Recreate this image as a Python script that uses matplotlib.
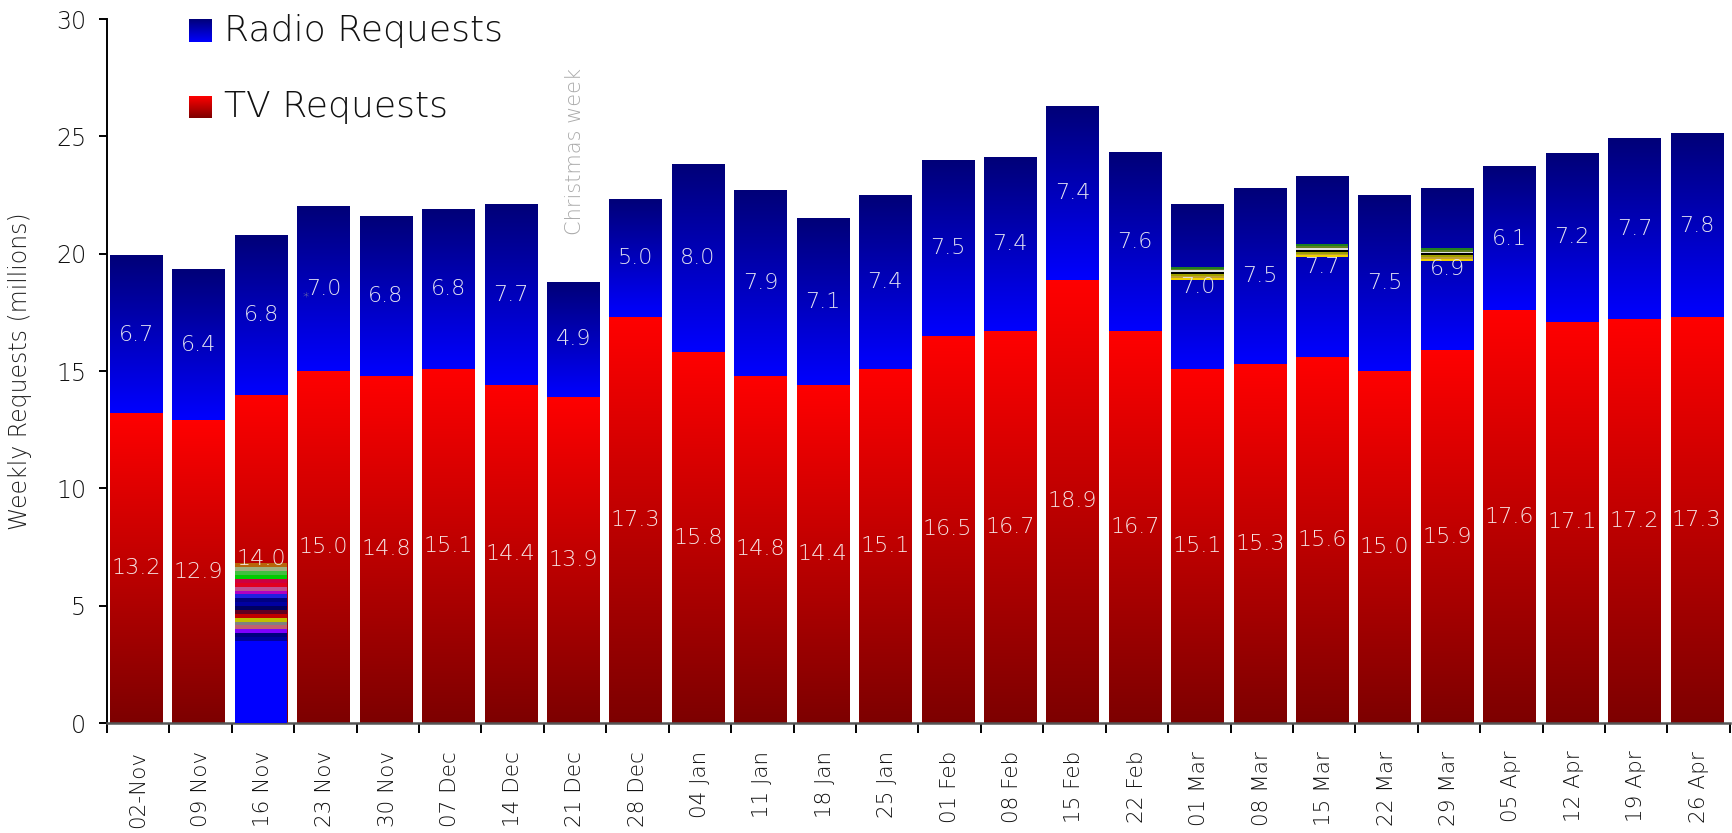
import numpy as np
import matplotlib
matplotlib.use("Agg")
import matplotlib.pyplot as plt
from matplotlib.colors import LinearSegmentedColormap

plt.rcParams["font.family"] = ["DejaVu Sans"]
plt.rcParams["font.weight"] = 200

weeks = ["02-Nov", "09 Nov", "16 Nov", "23 Nov", "30 Nov", "07 Dec", "14 Dec",
         "21 Dec", "28 Dec", "04 Jan", "11 Jan", "18 Jan", "25 Jan", "01 Feb",
         "08 Feb", "15 Feb", "22 Feb", "01 Mar", "08 Mar", "15 Mar", "22 Mar",
         "29 Mar", "05 Apr", "12 Apr", "19 Apr", "26 Apr"]
tv = [13.2, 12.9, 14.0, 15.0, 14.8, 15.1, 14.4, 13.9, 17.3, 15.8, 14.8, 14.4, 15.1,
      16.5, 16.7, 18.9, 16.7, 15.1, 15.3, 15.6, 15.0, 15.9, 17.6, 17.1, 17.2, 17.3]
radio = [6.7, 6.4, 6.8, 7.0, 6.8, 6.8, 7.7, 4.9, 5.0, 8.0, 7.9, 7.1, 7.4,
         7.5, 7.4, 7.4, 7.6, 7.0, 7.5, 7.7, 7.5, 6.9, 6.1, 7.2, 7.7, 7.8]

# rendering artefacts seen in the original export
glitch_bar = 2
glitch_blue_top = 3.5
glitch_colors = ["#0000a0", "#000080", "#8000ff", "#c06070", "#808080", "#c0c000",
                 "#c00000", "#600020", "#000060", "#0000a0", "#000080", "#2020e0",
                 "#b000c0", "#c05090", "#e00020", "#cc0040", "#00cc00", "#40c040",
                 "#a0b080", "#b8650a"]
glitch_top = 6.8
band_bars = [17, 19, 21]
band_lows = [18.9, 19.85, 19.7]
band_highs = [19.45, 20.4, 20.25]
band_colors = ["#f0d000", "#c0a030", "#a0a000", "#000000", "#e0e0e0", "#608020", "#208020"]

tv_cmap = LinearSegmentedColormap.from_list("tv", ["#7d0000", "#ff0000"])
radio_cmap = LinearSegmentedColormap.from_list("radio", ["#0000ff", "#000078"])
grad = np.linspace(0, 1, 256).reshape(-1, 1)

fig = plt.figure(figsize=(17.33, 8.33), dpi=100)
ax = fig.add_axes([0.0617, 0.132, 0.9365, 0.845])

w = 0.84
off = -0.03
for i, (t, r) in enumerate(zip(tv, radio)):
    x0, x1 = i - w / 2 + off, i + w / 2 + off
    ax.imshow(grad, cmap=tv_cmap, extent=[x0, x1, 0, t], origin="lower",
              aspect="auto", interpolation="bilinear", zorder=2)
    ax.imshow(grad, cmap=radio_cmap, extent=[x0, x1, t, t + r], origin="lower",
              aspect="auto", interpolation="bilinear", zorder=2)
    ax.text(i + off, t / 2, f"{t:.1f}", ha="center", va="center", color="#f6e4e4",
            fontsize=16, zorder=4)
    ax.text(i + off, t + r / 2, f"{r:.1f}", ha="center", va="center", color="#e4e4f2",
            fontsize=16, zorder=4)

# artefacts
gx0, gx1 = glitch_bar - w / 2 + off, glitch_bar + w / 2 + off
ax.fill_between([gx0, gx1], 0, glitch_blue_top, color="#0000ff", lw=0, zorder=3)
edges = np.linspace(glitch_blue_top, glitch_top, len(glitch_colors) + 1)
for k, c in enumerate(glitch_colors):
    ax.fill_between([gx0, gx1], edges[k], edges[k + 1], color=c, lw=0, zorder=3)
for b, lo, hi in zip(band_bars, band_lows, band_highs):
    e = np.linspace(lo, hi, len(band_colors) + 1)
    for k, c in enumerate(band_colors):
        ax.fill_between([b - w / 2 + off, b + w / 2 + off], e[k], e[k + 1],
                        color=c, lw=0, zorder=3)
ax.text(2.69, 18.2, "*", color="#999999", fontsize=9, ha="center", va="center", zorder=4)

ax.text(7.0, 20.8, "Christmas week", rotation=90, ha="center", va="bottom",
        color="#aaaaaa", fontsize=15)

# legend with gradient squares
ax.imshow(grad, cmap=radio_cmap, extent=[0.816, 1.17, 29.02, 29.96], origin="lower",
          aspect="auto", zorder=5)
ax.imshow(grad, cmap=tv_cmap, extent=[0.816, 1.17, 25.8, 26.7], origin="lower",
          aspect="auto", zorder=5)
ax.text(1.38, 29.5, "Radio Requests", fontsize=26, va="center", ha="left",
        color="#111111")
ax.text(1.38, 26.25, "TV Requests", fontsize=26, va="center", ha="left",
        color="#111111")

ax.set_xlim(-0.5, len(weeks) - 0.5)
ax.set_ylim(0, 30)
ax.set_yticks(range(0, 31, 5))
ax.tick_params(axis="y", labelsize=17, length=6, width=1.4, direction="out", pad=9,
               labelcolor="#111111")
ax.set_xticks(np.arange(len(weeks) + 1) - 0.5)
ax.set_xticklabels([])
ax.tick_params(axis="x", which="major", length=7, width=1.4, direction="out")
ax.set_xticks(np.arange(len(weeks)), minor=True)
ax.set_xticklabels(weeks, minor=True, rotation=90, fontsize=15.5, color="#111111")
ax.tick_params(axis="x", which="minor", length=0, pad=20)

ax.spines["top"].set_visible(False)
ax.spines["right"].set_visible(False)
ax.spines["left"].set_linewidth(1.4)
ax.spines["bottom"].set_linewidth(1.8)
ax.spines["bottom"].set_color("#555555")
ax.set_ylabel("Weekly Requests (millions)", fontsize=17, fontweight=200, color="#222222")
ax.yaxis.set_label_coords(-0.046, 0.5)

fig.savefig("out.png", dpi=100)
